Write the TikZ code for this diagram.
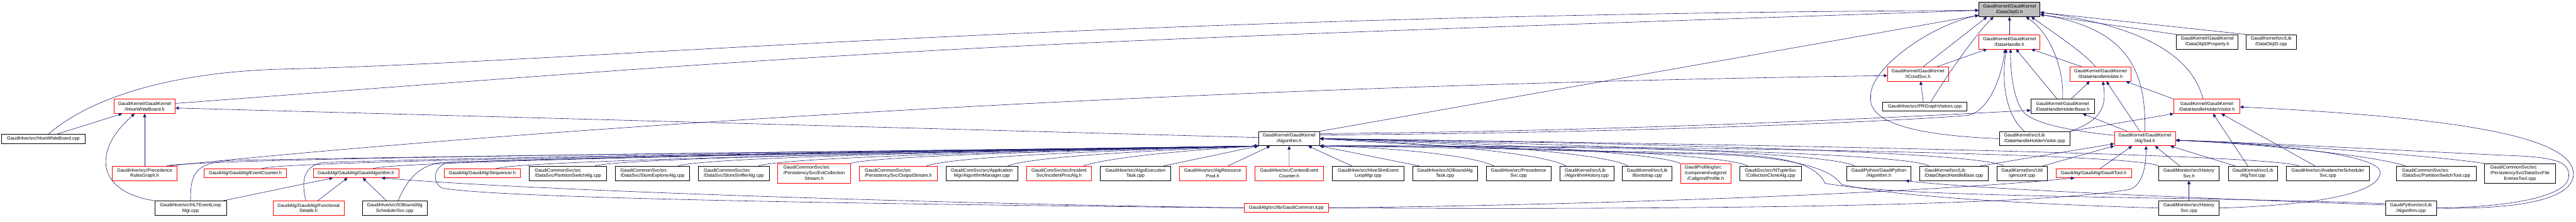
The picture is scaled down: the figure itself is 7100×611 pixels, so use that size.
\documentclass[tikz,border=0pt]{standalone}
\usepackage{fontspec}
\setmainfont{Liberation Sans}
\usepackage{xcolor}
\usepackage{tikz}
\usetikzlibrary{arrows.meta}
\definecolor{doxblue}{HTML}{191970}
\definecolor{doxred}{HTML}{FF0000}
\definecolor{doxgray}{HTML}{BFBFBF}
\newcommand\doxfont{\fontsize{6.4pt}{7.65pt}\selectfont}
\tikzset{
  docnode/.style={draw=black, line width=0.55pt, inner sep=0pt, font=\doxfont,
                  align=center, minimum height=19.7pt},
  hotnode/.style={docnode, draw=doxred},
  rootnode/.style={docnode, fill=doxgray},
  oneline/.style={minimum height=12.4pt},
  threeline/.style={minimum height=27.1pt},
  incl/.style={draw=doxblue, line width=0.5pt, -{Triangle[length=4.8pt,width=4.4pt]}},
}

\begin{document}
\begin{tikzpicture}[x=0.5pt, y=-0.5pt]
  \fill[white] (0,0) rectangle (7100,611);
  \useasboundingbox (0,0) rectangle (7100,611);

  \node[rootnode, minimum width=84.2pt] (dataobjid) at (5538.5,26.2) {GaudiKernel/GaudiKernel\\/DataObjID.h};
  \node[hotnode, minimum width=84.2pt] (datahandle) at (5538.5,115.2) {GaudiKernel/GaudiKernel\\/DataHandle.h};
  \node[docnode, minimum width=84.8pt] (objidprop) at (6083.7,115.2) {GaudiKernel/GaudiKernel\\/DataObjIDProperty.h};
  \node[docnode, minimum width=68.5pt] (objidcpp) at (6259.8,115.2) {GaudiKernel/src/Lib\\/DataObjID.cpp};
  \node[hotnode, minimum width=84pt] (icondsvc) at (5286.5,204) {GaudiKernel/GaudiKernel\\/ICondSvc.h};
  \node[hotnode, minimum width=84.2pt] (idhholder) at (5789.2,204) {GaudiKernel/GaudiKernel\\/IDataHandleHolder.h};
  \node[hotnode, minimum width=84.2pt] (ihivewb) at (398.7,293.1) {GaudiKernel/GaudiKernel\\/IHiveWhiteBoard.h};
  \node[docnode, oneline, minimum width=116pt] (prgvisit) at (5305,293.3) {GaudiHive/src/PRGraphVisitors.cpp};
  \node[docnode, minimum width=87.4pt] (dhhbase) at (5684.9,293.1) {GaudiKernel/GaudiKernel\\/DataHandleHolderBase.h};
  \node[hotnode, minimum width=91pt] (dhhvish) at (6082.3,293.1) {GaudiKernel/GaudiKernel\\/DataHandleHolderVisitor.h};
  \node[docnode, oneline, minimum width=115pt] (hivewbcpp) at (119.6,382.5) {GaudiHive/src/HiveWhiteBoard.cpp};
  \node[docnode, minimum width=84pt] (algorithmh) at (3553.1,382.1) {GaudiKernel/GaudiKernel\\/Algorithm.h};
  \node[docnode, align=left, minimum width=97.4pt] (dhhviscpp) at (5607.6,382.1) {GaudiKernel/src/Lib\\/DataHandleHolderVisitor.cpp};
  \node[hotnode, minimum width=84.4pt] (algtoolh) at (5911.8,382.1) {GaudiKernel/GaudiKernel\\/AlgTool.h};

  \node[hotnode, minimum width=89.5pt] (prgraphh) at (398.7,477.7) {GaudiHive/src/Precedence\\RulesGraph.h};
  \node[hotnode, oneline, minimum width=113.5pt] (evtcounter) at (676,477.4) {GaudiAlg/GaudiAlg/EventCounter.h};
  \node[hotnode, oneline, minimum width=118.2pt] (gaudialgh) at (981.2,477.4) {GaudiAlg/GaudiAlg/GaudiAlgorithm.h};
  \node[hotnode, oneline, minimum width=105pt] (sequencer) at (1329.2,477.4) {GaudiAlg/GaudiAlg/Sequencer.h};
  \node[docnode, align=left, minimum width=107pt] (pswalg) at (1565.3,477.7) {GaudiCommonSvc/src\\/DataSvc/PartitionSwitchAlg.cpp};
  \node[docnode, align=left, minimum width=102pt] (stexplorer) at (1798.5,477.7) {GaudiCommonSvc/src\\/DataSvc/StoreExplorerAlg.cpp};
  \node[docnode, align=left, minimum width=97.5pt] (stsniffer) at (2022.5,477.7) {GaudiCommonSvc/src\\/DataSvc/StoreSnifferAlg.cpp};
  \node[hotnode, threeline, minimum width=100pt] (evtcollstream) at (2243.7,478) {\begin{tabular}{@{}l@{}}GaudiCommonSvc/src\\/PersistencySvc/EvtCollection\\\multicolumn{1}{@{}c@{}}{Stream.h}\end{tabular}};
  \node[hotnode, align=left, minimum width=107.7pt] (outstream) at (2476,477.7) {GaudiCommonSvc/src\\/PersistencySvc/OutputStream.h};
  \node[docnode, minimum width=99pt] (algmgr) at (2706.3,477.7) {GaudiCoreSvc/src/Application\\Mgr/AlgorithmManager.cpp};
  \node[hotnode, minimum width=89.5pt] (incproc) at (2918.9,477.7) {GaudiCoreSvc/src/Incident\\Svc/IncidentProcAlg.h};
  \node[docnode, minimum width=96.8pt] (algoexec) at (3129.4,477.7) {GaudiHive/src/AlgoExecution\\Task.cpp};
  \node[hotnode, minimum width=92.2pt] (algrespool) at (3342.5,477.7) {GaudiHive/src/AlgResource\\Pool.h};
  \node[hotnode, minimum width=94.9pt] (ctxcounter) at (3553.3,477.7) {GaudiHive/src/ContextEvent\\Counter.h};
  \node[docnode, minimum width=98.3pt] (hiveslim) at (3770.7,477.7) {GaudiHive/src/HiveSlimEvent\\LoopMgr.cpp};
  \node[docnode, minimum width=89.5pt] (ioboundtask) at (3982.6,477.7) {GaudiHive/src/IOBoundAlg\\Task.cpp};
  \node[docnode, minimum width=89.5pt] (precsvc) at (4185.5,477.7) {GaudiHive/src/Precedence\\Svc.cpp};
  \node[docnode, align=left, minimum width=74.2pt] (alghist) at (4373.4,477.7) {GaudiKernel/src/Lib\\/AlgorithmHistory.cpp};
  \node[docnode, minimum width=68.3pt] (bootstrap) at (4540,477.7) {GaudiKernel/src/Lib\\/Bootstrap.cpp};
  \node[hotnode, threeline, minimum width=69.5pt] (callgrind) at (4701,478) {\begin{tabular}{@{}l@{}}GaudiProfiling/src\\/component/valgrind\\\multicolumn{1}{@{}c@{}}{/CallgrindProfile.h}\end{tabular}};
  \node[docnode, minimum width=85.5pt] (collclone) at (4879.8,477.7) {GaudiSvc/src/NTupleSvc\\/CollectionCloneAlg.cpp};
  \node[docnode, minimum width=88pt] (gpalgh) at (5178.5,477.7) {GaudiPython/GaudiPython\\/Algorithm.h};
  \node[docnode, align=left, minimum width=94pt] (dohbase) at (5385.1,477.7) {GaudiKernel/src/Lib\\/DataObjectHandleBase.cpp};
  \node[docnode, minimum width=69.6pt] (genconf) at (5573,477.7) {GaudiKernel/src/Util\\/genconf.cpp};
  \node[hotnode, oneline, minimum width=103.7pt] (gauditool) at (5770.4,477.4) {GaudiAlg/GaudiAlg/GaudiTool.h};
  \node[docnode, minimum width=83.2pt] (histsvch) at (6033.1,477.7) {GaudiMonitor/src/History\\Svc.h};
  \node[docnode, minimum width=68.1pt] (algtoolcpp) at (6209.3,477.7) {GaudiKernel/src/Lib\\/AlgTool.cpp};
  \node[docnode, minimum width=114.2pt] (avalanche) at (6416.2,477.7) {GaudiHive/src/AvalancheScheduler\\Svc.cpp};
  \node[docnode, align=left, minimum width=109.5pt] (pswtool) at (6714.5,477.7) {GaudiCommonSvc/src\\/DataSvc/PartitionSwitchTool.cpp};
  \node[docnode, threeline, minimum width=97.5pt] (dsvcfile) at (6945.5,478) {\begin{tabular}{@{}l@{}}GaudiCommonSvc/src\\/PersistencySvc/DataSvcFile\\\multicolumn{1}{@{}c@{}}{EntriesTool.cpp}\end{tabular}};

  \node[docnode, minimum width=98.5pt] (hltloop) at (525.2,573.4) {GaudiHive/src/HLTEventLoop\\Mgr.cpp};
  \node[hotnode, minimum width=98pt] (funcdetails) at (850.5,573.4) {GaudiAlg/GaudiAlg/Functional\\Details.h};
  \node[docnode, minimum width=89.4pt] (ioboundsched) at (1087.8,573.4) {GaudiHive/src/IOBoundAlg\\SchedulerSvc.cpp};
  \node[hotnode, oneline, minimum width=116.7pt] (gaudicommon) at (3545.3,573) {GaudiAlg/src/lib/GaudiCommon.icpp};
  \node[docnode, minimum width=83.2pt] (histsvccpp) at (6033.1,573.4) {GaudiMonitor/src/History\\Svc.cpp};
  \node[docnode, minimum width=70pt] (gpalgcpp) at (6645,573.4) {GaudiPython/src/Lib\\/Algorithm.cpp};

  \draw[incl] (datahandle) -- (dataobjid);
  \draw[incl] (objidprop.north west) -- ([yshift=-7pt]dataobjid.east);
  \draw[incl] (objidcpp.north west) -- ([yshift=-4pt]dataobjid.east);
  \draw[incl] ([xshift=7.2pt]icondsvc.north) -- ([xshift=-31pt]dataobjid.south);
  \draw[incl] ([xshift=-7pt]idhholder.north) .. controls (5750,150) and (5660,90) .. ([xshift=30pt]dataobjid.south);
  \draw[incl] (dhhbase.north) .. controls (5690,190) and (5650,90) .. ([xshift=22.6pt]dataobjid.south);
  \draw[incl] (algtoolh.north) .. controls (5915,200) and (5870,80) .. ([yshift=-7pt]dataobjid.east);
  \draw[incl] ([xshift=-5pt]dhhvish.north) .. controls (6050,190) and (5970,80) .. ([yshift=-4pt]dataobjid.east);
  \draw[incl] (algorithmh.north east) -- ([yshift=-7.9pt]dataobjid.west);
  \draw[incl] ([xshift=8.5pt]prgvisit.north) .. controls (5355,225) and (5440,100) .. ([xshift=-22pt]dataobjid.south);
  \draw[incl] ([yshift=4pt]ihivewb.east) .. controls (2600,125) .. ([yshift=-1.2pt]dataobjid.west);
  \draw[incl] ([xshift=7pt]hivewbcpp.north) .. controls (260,260) and (500,195) .. (800,190)
    .. controls (1600,170) and (3000,40) .. ([yshift=-1.2pt]dataobjid.west);
  \draw[incl] (dhhviscpp.west) .. controls (5250,372) and (5150,330) .. (5156,268)
    .. controls (5150,190) and (5320,70) .. ([yshift=-7.9pt]dataobjid.west);

  \draw[incl] ([xshift=26.5pt]icondsvc.north) -- ([xshift=-31pt]datahandle.south);
  \draw[incl] ([xshift=-13.8pt]dhhviscpp.north) .. controls (5530,320) and (5515,230) .. ([xshift=-4.2pt]datahandle.south);
  \draw[incl] ([yshift=4.5pt]algtoolh.west) .. controls (5700,360) and (5610,340) .. (5580,312)
    .. controls (5550,280) and (5541,200) .. ([xshift=1.5pt]datahandle.south);
  \draw[incl] ([xshift=-7.5pt]dhhbase.north) -- ([xshift=9pt]datahandle.south);
  \draw[incl] ([xshift=-26pt]idhholder.north) -- ([xshift=30pt]datahandle.south);
  \draw[incl] ([yshift=5pt]algorithmh.east) .. controls (4500,366) and (5200,336) .. (5425,318)
    .. controls (5480,305) and (5515,220) .. ([xshift=-6pt]datahandle.south);

  \draw[incl] ([yshift=7pt]algorithmh.east) .. controls (4500,362) and (5250,322) .. ([yshift=-5.5pt]dhhbase.west);
  \draw[incl] ([xshift=-24.4pt]algtoolh.north) -- ([xshift=27.8pt]dhhbase.south);

  \draw[incl] ([xshift=11.5pt]dhhbase.north) -- ([xshift=-14.7pt]idhholder.south);
  \draw[incl] (dhhviscpp.north east) .. controls (5800,330) and (5805,285) .. ([xshift=3.4pt]idhholder.south);
  \draw[incl] ([xshift=-7pt]algtoolh.north) -- ([xshift=8.2pt]idhholder.south);
  \draw[incl] (dhhvish.north west) -- ([xshift=35pt]idhholder.south);

  \draw[incl] (dhhviscpp.north east) -- (dhhvish.south west);
  \draw[incl] ([xshift=-7pt]algtoolcpp.north) -- ([xshift=8.6pt]dhhvish.south);
  \draw[incl] ([xshift=-17.7pt]avalanche.north) -- ([xshift=20pt]dhhvish.south);
  \draw[incl] (gpalgcpp.east) .. controls (6960,578) and (7093,545) .. (7093,479)
    .. controls (7090,380) and (6800,325) .. ([yshift=-0.8pt]dhhvish.east);

  \draw[incl] ([xshift=33pt]prgraphh.north) .. controls (1200,380) and (3000,240) .. ([yshift=-2.2pt]icondsvc.west);
  \draw[incl] ([xshift=-2pt]prgvisit.north) -- ([xshift=3.5pt]icondsvc.south);

  \draw[incl] (prgraphh) -- (ihivewb);
  \draw[incl] ([xshift=18.7pt]hivewbcpp.north) -- ([xshift=-31pt]ihivewb.south);
  \draw[incl] (hltloop.north west) .. controls (270,530) and (250,420) .. ([xshift=-13.8pt]ihivewb.south);
  \draw[incl] ([yshift=1.5pt]algorithmh.west) -- ([yshift=-2.3pt]ihivewb.east);

  \draw[incl] ([xshift=45pt]hltloop.north) -- ([xshift=-31.8pt]gaudialgh.south);
  \draw[incl] ([xshift=12.5pt]funcdetails.north) -- ([xshift=-11.7pt]gaudialgh.south);
  \draw[incl] ([xshift=-11.4pt]ioboundsched.north) -- ([xshift=9.3pt]gaudialgh.south);
  \draw[incl] (gaudicommon.west) .. controls (2400,558) and (1400,520) .. ([xshift=35pt]gaudialgh.south);

  \draw[incl] ([yshift=4.2pt]gpalgcpp.west) .. controls (6100,548) and (5450,522) .. ([xshift=36.5pt]gpalgh.south);
  \draw[incl] (histsvccpp) -- (histsvch);
  \draw[incl] (gaudicommon.east) .. controls (4400,565) and (5300,532) .. ([xshift=-26.4pt]gauditool.south);

  \draw[incl] ([xshift=36.2pt]dohbase.north) -- ([yshift=-7pt]algtoolh.west);
  \draw[incl] ([xshift=28.3pt]genconf.north) -- (algtoolh.south west);
  \draw[incl] ([xshift=9pt]gauditool.north) -- ([xshift=-17.7pt]algtoolh.south);
  \draw[incl] (gaudicommon.east) .. controls (4600,578) and (5600,570) .. (5870,522)
    .. controls (5905,510) and (5915,460) .. ([xshift=1.5pt]algtoolh.south);
  \draw[incl] ([xshift=-12.7pt]histsvch.north) -- ([xshift=13.9pt]algtoolh.south);
  \draw[incl] ([xshift=-24.3pt]algtoolcpp.north) -- ([xshift=35pt]algtoolh.south);
  \draw[incl] ([xshift=-42pt]pswtool.north) .. controls (6550,430) and (6250,398) .. ([yshift=-2.2pt]algtoolh.east);
  \draw[incl] (dsvcfile.north west) .. controls (6700,428) and (6250,396) .. ([yshift=-2.2pt]algtoolh.east);
  \draw[incl] (histsvccpp.east) .. controls (6400,565) and (6560,530) .. (6560,475)
    .. controls (6562,425) and (6250,395) .. ([yshift=-2.2pt]algtoolh.east);
  \draw[incl] (gpalgcpp.east) .. controls (6950,570) and (7080,535) .. (7080,485)
    .. controls (7082,445) and (7040,432) .. (6900,428)
    .. controls (6600,414) and (6200,392) .. ([yshift=-2.2pt]algtoolh.east);

  \draw[incl] ([xshift=30pt]prgraphh.north) .. controls (560,432) and (2800,414) .. (algorithmh.south west);
  \draw[incl] (hltloop.north) .. controls (525,480) and (535,448) .. (640,442)
    .. controls (1500,425) and (2900,412) .. (algorithmh.south west);
  \draw[incl] ([xshift=23pt]evtcounter.north) .. controls (780,440) and (2800,414) .. (algorithmh.south west);
  \draw[incl] ([xshift=-3.7pt]funcdetails.north) .. controls (830,500) and (835,458) .. (890,448)
    .. controls (1500,428) and (2900,412) .. (algorithmh.south west);
  \draw[incl] ([xshift=23.7pt]gaudialgh.north) .. controls (1100,440) and (2800,414) .. (algorithmh.south west);
  \draw[incl] ([xshift=4.8pt]ioboundsched.north) .. controls (1120,500) and (1150,458) .. (1215,448)
    .. controls (1700,430) and (2900,412) .. (algorithmh.south west);
  \draw[incl] (gaudicommon.west) .. controls (2300,562) and (1350,545) .. (1218,518)
    .. controls (1192,505) and (1192,462) .. (1232,448)
    .. controls (1700,430) and (2900,412) .. (algorithmh.south west);
  \draw[incl] ([xshift=19.4pt]sequencer.north) .. controls (1460,438) and (2900,414) .. (algorithmh.south west);
  \draw[incl] ([xshift=37.3pt]pswalg.north) .. controls (1720,432) and (2900,414) .. (algorithmh.south west);
  \draw[incl] ([xshift=35pt]stexplorer.north) .. controls (1950,430) and (2950,414) .. (algorithmh.south west);
  \draw[incl] ([xshift=34pt]stsniffer.north) .. controls (2170,430) and (3000,414) .. (algorithmh.south west);
  \draw[incl] (evtcollstream.north east) .. controls (2420,428) and (3050,414) .. (algorithmh.south west);
  \draw[incl] ([xshift=38.5pt]outstream.north) .. controls (2630,430) and (3100,414) .. (algorithmh.south west);
  \draw[incl] ([xshift=35.4pt]algmgr.north) .. controls (2850,430) and (3200,414) .. (algorithmh.south west);
  \draw[incl] ([xshift=33.3pt]incproc.north) .. controls (3060,432) and (3300,412) .. (algorithmh.south west);
  \draw[incl] ([xshift=38.6pt]algoexec.north) -- (algorithmh.south west);
  \draw[incl] ([xshift=21pt]algrespool.north) -- ([xshift=-26pt]algorithmh.south);
  \draw[incl] (ctxcounter) -- (algorithmh);
  \draw[incl] ([xshift=-22.3pt]hiveslim.north) -- ([xshift=26.3pt]algorithmh.south);

  \draw[incl] ([xshift=-35.3pt]ioboundtask.north) -- (algorithmh.south east);
  \draw[incl] ([xshift=-33.5pt]precsvc.north) .. controls (4050,425) and (3800,405) .. (algorithmh.south east);
  \draw[incl] ([xshift=-28.3pt]alghist.north) .. controls (4250,420) and (3900,392) .. (algorithmh.east);
  \draw[incl] ([xshift=-26.5pt]bootstrap.north) .. controls (4420,418) and (3950,390) .. (algorithmh.east);
  \draw[incl] (callgrind.north west) .. controls (4560,418) and (4000,388) .. (algorithmh.east);
  \draw[incl] ([xshift=-31.4pt]collclone.north) .. controls (4740,418) and (4050,400) .. (algorithmh.south east);
  \draw[incl] ([xshift=-33.3pt]gpalgh.north) .. controls (5040,415) and (4100,392) .. (algorithmh.east);
  \draw[incl] ([xshift=-34.2pt]dohbase.north) .. controls (5240,415) and (4150,400) .. (algorithmh.south east);
  \draw[incl] ([xshift=-25.2pt]genconf.north) .. controls (5450,412) and (4200,390) .. (algorithmh.east);
  \draw[incl] (histsvch.north west) .. controls (5880,418) and (4300,400) .. (algorithmh.south east);
  \draw[incl] ([xshift=-39.7pt]avalanche.north) .. controls (6250,420) and (4400,392) .. (algorithmh.east);
  \draw[incl] (histsvccpp.west) .. controls (5500,560) and (5180,535) .. (5075,508)
    .. controls (5040,455) and (4900,430) .. (4700,425)
    .. controls (4200,415) and (3900,400) .. (algorithmh.east);
  \draw[incl] ([yshift=6pt]gpalgcpp.west) .. controls (6050,540) and (5250,548) .. (5030,505)
    .. controls (5000,440) and (4880,428) .. (4700,422)
    .. controls (4200,412) and (3900,405) .. (algorithmh.south east);
\end{tikzpicture}
\end{document}
